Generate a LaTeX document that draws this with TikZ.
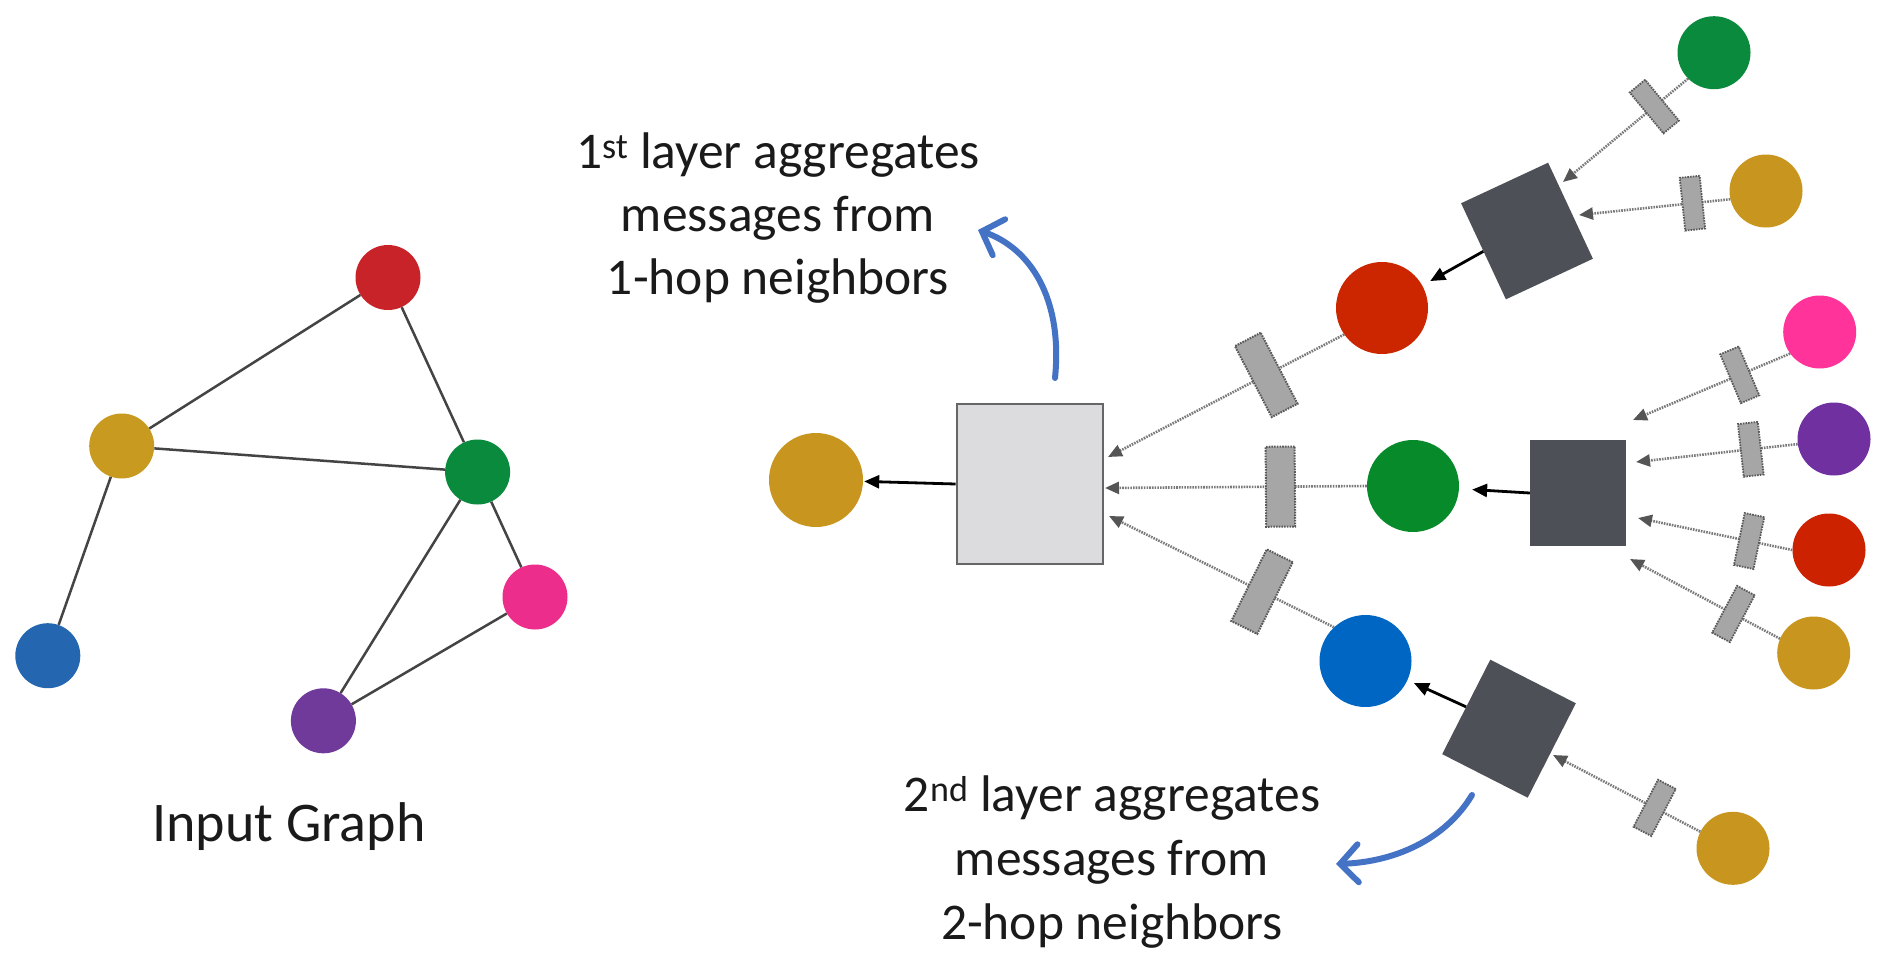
\documentclass[tikz,border=0pt]{standalone}
\usepackage{fontspec}
\setmainfont{Carlito}
\usetikzlibrary{arrows.meta}
\definecolor{cLred}{HTML}{C82328}
\definecolor{cLgold}{HTML}{C89B20}
\definecolor{cLgreen}{HTML}{0A8A3C}
\definecolor{cLpink}{HTML}{EC2D8C}
\definecolor{cLblue}{HTML}{2566B0}
\definecolor{cLpurple}{HTML}{703A9A}
\definecolor{cMred}{HTML}{CC2600}
\definecolor{cMgreen}{HTML}{078A2A}
\definecolor{cMblue}{HTML}{0066C4}
\definecolor{cRpink}{HTML}{FF3399}
\definecolor{cRpurple}{HTML}{7030A0}
\definecolor{cRred}{HTML}{CC2200}
\definecolor{cGold}{HTML}{C8961E}
\definecolor{cDark}{HTML}{4D5057}
\definecolor{cLight}{HTML}{DCDCDE}
\definecolor{cLightBorder}{HTML}{666666}
\definecolor{cMsg}{HTML}{A6A6A6}
\definecolor{cMsgBorder}{HTML}{595959}
\definecolor{cDotted}{HTML}{7A7A7A}
\definecolor{cTip}{HTML}{555555}
\definecolor{cEdge}{HTML}{444444}
\definecolor{cCurve}{HTML}{4472C4}
\definecolor{cText}{HTML}{1A1A1A}
\begin{document}
\begin{tikzpicture}[x=1pt,y=-1pt,
  gcirc/.style={circle, inner sep=0pt, minimum size=65pt, fill=#1},
  mcirc/.style={circle, inner sep=0pt, minimum size=92pt, fill=#1},
  rcirc/.style={circle, inner sep=0pt, minimum size=73pt, fill=#1},
  gedge/.style={draw=cEdge, line width=2.5pt},
  lightsq/.style={rectangle, inner sep=0pt, fill=cLight, draw=cLightBorder, line width=2.8pt, minimum width=146pt, minimum height=160pt},
  darksq/.style={rectangle, inner sep=0pt, fill=cDark, minimum width=96pt, minimum height=106pt},
  msgA/.style={rectangle, inner sep=0pt, fill=cMsg, draw=cMsgBorder, line width=2pt, minimum width=29pt, minimum height=80pt},
  msgB/.style={rectangle, inner sep=0pt, fill=cMsg, draw=cMsgBorder, line width=1.8pt, minimum width=20pt, minimum height=53pt},
  dline/.style={draw=cDotted, line width=2.6pt, dash pattern=on 1.6pt off 1.1pt, -{Triangle[length=14pt,width=12pt,color=cTip]}},
  barrow/.style={draw=black, line width=2.8pt, -{Triangle[length=15pt,width=13pt]}},
  curv/.style={draw=cCurve, line width=6pt, line cap=round, -{Straight Barb[length=18pt,width=38pt,line cap=round]}},
  lbl/.style={text=cText, anchor=base, inner sep=0pt, font=\fontsize{51.5}{63}\selectfont},
]
\useasboundingbox (0,0) rectangle (1884,961);
\fill[white] (0,0) rectangle (1884,961);

% ---------- Input graph ----------
\node[gcirc=cLred]    (Lred)    at (388,277.5) {};
\node[gcirc=cLgold]   (Lgold)   at (121.7,446) {};
\node[gcirc=cLgreen]  (Lgreen)  at (477.6,472) {};
\node[gcirc=cLpink]   (Lpink)   at (535,597) {};
\node[gcirc=cLblue]   (Lblue)   at (47.8,655.7) {};
\node[gcirc=cLpurple] (Lpurple) at (323.4,720.8) {};
\draw[gedge] (Lgold) -- (Lred);
\draw[gedge] (Lred) -- (Lgreen);
\draw[gedge] (Lgold) -- (Lgreen);
\draw[gedge] (Lgold) -- (Lblue);
\draw[gedge] (Lgreen) -- (Lpink);
\draw[gedge] (Lgreen) -- (Lpurple);
\draw[gedge] (Lpink) -- (Lpurple);
\node[text=cText, anchor=base, inner sep=0pt, font=\fontsize{56}{66}\selectfont] (title) at (289,841) {Input Graph};

% ---------- Computation graph ----------
\node[circle, inner sep=0pt, minimum size=94pt, fill=cGold] (outg) at (816,480) {};
\node[lightsq] (lsq) at (1030,484) {};

\node[mcirc=cMred]   (midred)   at (1382,308) {};
\node[mcirc=cMgreen] (midgreen) at (1413,486) {};
\node[mcirc=cMblue]  (midblue)  at (1365.5,661) {};

\node[darksq, rotate=25]  (dtop) at (1527,231) {};
\node[darksq]             (dmid) at (1578,493) {};
\node[darksq, rotate=-27] (dbot) at (1509,728.7) {};

\node[rcirc=cLgreen]   (rgreen)  at (1714,52.7) {};
\node[rcirc=cGold]     (rgold1)  at (1766,191) {};
\node[rcirc=cRpink]    (rpink)   at (1819.7,332) {};
\node[rcirc=cRpurple]  (rpurple) at (1834,439) {};
\node[rcirc=cRred]     (rred)    at (1829,550) {};
\node[rcirc=cGold]     (rgold2)  at (1813.7,653) {};
\node[rcirc=cGold]     (rgold3)  at (1733,848.3) {};

% arrow tip points
\coordinate (t1) at (1108,457);
\coordinate (t2) at (1105,488);
\coordinate (t3) at (1109,516);
\coordinate (t4) at (1563,182);
\coordinate (t5) at (1579,215);
\coordinate (t6) at (1633,420);
\coordinate (t7) at (1636,462);
\coordinate (t8) at (1638,518);
\coordinate (t9) at (1630,559);
\coordinate (t10) at (1553,755);

% first-layer messages
\draw[dline] (midred.215) -- node[pos=0.33, sloped, msgA] (m1) {} (t1);
\draw[dline] (midgreen.180) -- node[pos=0.33, sloped, msgA] (m2) {} (t2);
\draw[dline] (midblue.133) -- node[pos=0.32, sloped, msgA] (m3) {} (t3);

% second-layer messages
\draw[dline] (rgreen.225) -- node[pos=0.27, sloped, msgB] (m4) {} (t4);
\draw[dline] (rgold1.193) -- node[pos=0.25, sloped, msgB] (m5) {} (t5);
\draw[dline] (rpink.216) -- node[pos=0.32, sloped, msgB] (m6) {} (t6);
\draw[dline] (rpurple.188) -- node[pos=0.29, sloped, msgB] (m7) {} (t7);
\draw[dline] (rred.180) -- node[pos=0.28, sloped, msgB] (m8) {} (t8);
\draw[dline] (rgold2.157) -- node[pos=0.31, sloped, msgB] (m9) {} (t9);
\draw[dline] (rgold3.153) -- node[pos=0.31, sloped, msgB] (m10) {} (t10);

% aggregation outputs
\draw[barrow, shorten >=1pt] (lsq.west) -- (outg);
\draw[barrow, shorten >=9pt] (dtop.west) -- (midred);
\draw[barrow, shorten >=13pt] (dmid.west) -- (midgreen);
\draw[barrow, shorten >=7pt] (dbot.west) -- (midblue);

% curved annotation arrows
\coordinate (c1s) at (1055,378);
\coordinate (c1e) at (978,230);
\draw[curv] (c1s) .. controls +(8,-80) and +(52,18) .. (c1e);
\coordinate (c2s) at (1472,795);
\coordinate (c2e) at (1336,864);
\draw[curv] (c2s) .. controls +(-27,45) and +(58,-2) .. (c2e);

% labels
\node[lbl] (l1a) at (778,168) {1\textsuperscript{st} layer aggregates};
\node[lbl] (l1b) at (778,231) {messages from};
\node[lbl] (l1c) at (778,294) {1-hop neighbors};
\node[lbl] (l2a) at (1112,811) {2\textsuperscript{nd} layer aggregates};
\node[lbl] (l2b) at (1112,875) {messages from};
\node[lbl] (l2c) at (1112,939) {2-hop neighbors};
\end{tikzpicture}
\end{document}
